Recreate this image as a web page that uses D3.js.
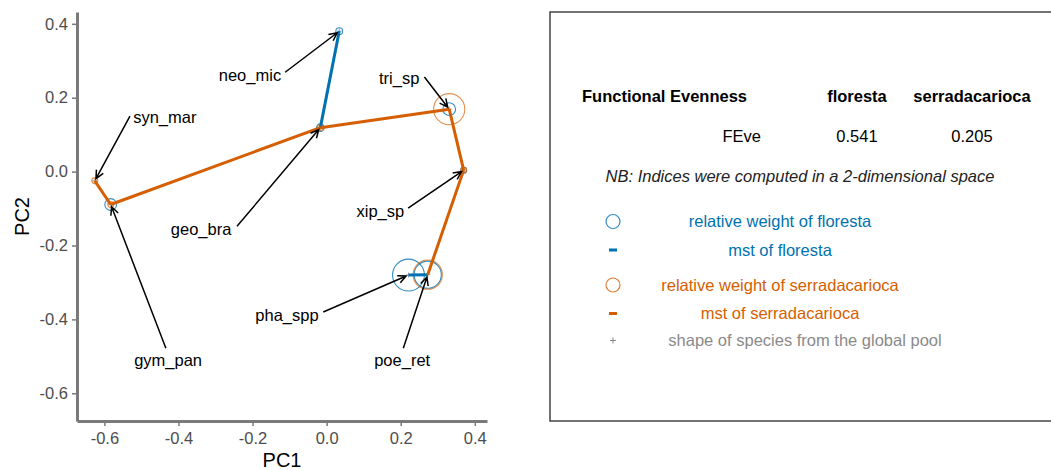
<!DOCTYPE html>
<html>
<head>
<meta charset="utf-8">
<script src="https://cdn.jsdelivr.net/npm/d3@7"></script>
<style>
  body { margin: 0; background: #fff; }
  svg { display: block; font-family: "Liberation Sans", Arial, sans-serif; }
</style>
</head>
<body>
<svg id="chart" width="1051" height="470"></svg>
<script>
'use strict';

// Species positions in the functional space.
const species = ['syn_mar', 'gym_pan', 'geo_bra', 'neo_mic', 'tri_sp', 'xip_sp', 'pha_spp', 'poe_ret'];
const pc1 = [-0.626, -0.583, -0.017, 0.034, 0.331, 0.370, 0.221, 0.273];
const pc2 = [-0.025, -0.089, 0.119, 0.380, 0.169, 0.004, -0.280, -0.279];

// Relative weights per assemblage.
const assemblages = ['floresta', 'serradacarioca'];
const weightFloresta = [0, 0.06, 0.025, 0.02, 0.07, 0.015, 0.44, 0.32];
const weightSerra = [0.015, 0.015, 0.015, 0, 0.42, 0.015, 0, 0.37];

// Minimum spanning trees.
const mstFloresta = [['neo_mic', 'geo_bra'], ['geo_bra', 'gym_pan'], ['geo_bra', 'tri_sp'],
  ['tri_sp', 'xip_sp'], ['xip_sp', 'poe_ret'], ['poe_ret', 'pha_spp']];
const mstSerra = [['syn_mar', 'gym_pan'], ['gym_pan', 'geo_bra'], ['geo_bra', 'tri_sp'],
  ['tri_sp', 'xip_sp'], ['xip_sp', 'poe_ret']];

// Repelled labels (data units): label centre and segment start.
const labelX = [-0.437, -0.428, -0.339, -0.207, 0.196, 0.145, -0.107, 0.204];
const labelY = [0.147, -0.510, -0.156, 0.261, 0.253, -0.107, -0.388, -0.510];
const segX = [-0.531, -0.434, -0.242, -0.112, 0.264, 0.220, -0.009, 0.207];
const segY = [0.150, -0.478, -0.148, 0.269, 0.256, -0.099, -0.380, -0.478];

const tickValues = [-0.6, -0.4, -0.2, 0.0, 0.2, 0.4];

// Index table.
const indexName = 'Functional Evenness';
const indexCodes = ['FEve'];
const indexValues = [0.541, 0.205];
const noteText = 'NB: Indices were computed in a 2-dimensional space';
const legendLabels = ['relative weight of floresta', 'mst of floresta',
  'relative weight of serradacarioca', 'mst of serradacarioca',
  'shape of species from the global pool'];

const blue = '#0072B2';
const orange = '#D55E00';
const grey = '#8a8a8a';

const svg = d3.select('#chart');

const x = d3.scaleLinear().domain([-0.674, 0.433]).range([77, 487]);
const y = d3.scaleLinear().domain([-0.675, 0.432]).range([421, 12]);
const r = d3.scaleSqrt().domain([0, 0.5]).range([0, 17]);

const pts = species.map((s, i) => ({
  name: s, x: pc1[i], y: pc2[i], wf: weightFloresta[i], ws: weightSerra[i],
  lx: labelX[i], ly: labelY[i], sx: segX[i], sy: segY[i]
}));
const byName = new Map(pts.map(d => [d.name, d]));

// Axes.
const fmt = d => d.toFixed(1);
const $xAxis = svg.append('g')
  .attr('transform', 'translate(0,421)')
  .call(d3.axisBottom(x).tickValues(tickValues).tickFormat(fmt).tickSize(5).tickPadding(6).tickSizeOuter(0));
const $yAxis = svg.append('g')
  .attr('transform', 'translate(77,0)')
  .call(d3.axisLeft(y).tickValues(tickValues).tickFormat(fmt).tickSize(5).tickPadding(4).tickSizeOuter(0));

[$xAxis, $yAxis].forEach($a => {
  $a.select('.domain').attr('stroke', '#7a7a7a').attr('stroke-width', 3);
  $a.selectAll('.tick line').attr('stroke', '#7a7a7a').attr('stroke-width', 1.5);
  $a.selectAll('.tick text').attr('fill', '#4d4d4d').style('font-size', '16.5px')
    .style('font-family', '"Liberation Sans", Arial, sans-serif');
});

svg.append('text').attr('x', 282).attr('y', 467).attr('text-anchor', 'middle')
  .style('font-size', '20px').attr('fill', '#000').text('PC1');
svg.append('text').attr('transform', 'translate(29,216.5) rotate(-90)').attr('text-anchor', 'middle')
  .style('font-size', '20px').attr('fill', '#000').text('PC2');

const $plot = svg.append('g');

// Pool species shapes.
$plot.selectAll('.pool').data(pts).enter().append('path')
  .attr('class', 'pool')
  .attr('d', d => `M${x(d.x) - 2.5},${y(d.y)}h5M${x(d.x)},${y(d.y) - 2.5}v5`)
  .attr('stroke', grey).attr('stroke-width', 0.8);

// Weight circles.
$plot.selectAll('.wf').data(pts.filter(d => d.wf > 0)).enter().append('circle')
  .attr('cx', d => x(d.x)).attr('cy', d => y(d.y)).attr('r', d => r(d.wf))
  .attr('fill', 'none').attr('stroke', blue).attr('stroke-opacity', 0.8).attr('stroke-width', 1.1);
$plot.selectAll('.ws').data(pts.filter(d => d.ws > 0)).enter().append('circle')
  .attr('cx', d => x(d.x)).attr('cy', d => y(d.y)).attr('r', d => r(d.ws))
  .attr('fill', 'none').attr('stroke', orange).attr('stroke-opacity', 0.7).attr('stroke-width', 1.1);

// MST segments. Edges shared with the serradacarioca tree are covered by it anyway.
const edgeKey = e => e.slice().sort().join('|');
const serraKeys = new Set(mstSerra.map(edgeKey));
const drawMst = (edges, color) => {
  $plot.append('g').selectAll('line').data(edges).enter().append('line')
    .attr('x1', e => x(byName.get(e[0]).x)).attr('y1', e => y(byName.get(e[0]).y))
    .attr('x2', e => x(byName.get(e[1]).x)).attr('y2', e => y(byName.get(e[1]).y))
    .attr('stroke', color).attr('stroke-width', 3).attr('stroke-linecap', 'butt');
};
drawMst(mstFloresta.filter(e => !serraKeys.has(edgeKey(e))), blue);
drawMst(mstSerra, orange);

// Label segments with open arrowheads.
const arrowPath = d => {
  const x0 = x(d.sx), y0 = y(d.sy), px = x(d.x), py = y(d.y);
  const len = Math.hypot(px - x0, py - y0);
  const ux = (px - x0) / len, uy = (py - y0) / len;
  const tx = px - ux * 2.5, ty = py - uy * 2.5;
  const a = Math.atan2(uy, ux), h = 9, spread = Math.PI / 7;
  const l1 = [tx - h * Math.cos(a - spread), ty - h * Math.sin(a - spread)];
  const l2 = [tx - h * Math.cos(a + spread), ty - h * Math.sin(a + spread)];
  return `M${x0},${y0}L${tx},${ty}M${l1[0]},${l1[1]}L${tx},${ty}L${l2[0]},${l2[1]}`;
};
$plot.selectAll('.seg').data(pts).enter().append('path')
  .attr('d', arrowPath).attr('fill', 'none').attr('stroke', '#000').attr('stroke-width', 1.5);

$plot.selectAll('.label').data(pts).enter().append('text')
  .attr('x', d => x(d.lx)).attr('y', d => y(d.ly)).attr('dy', '0.35em')
  .attr('text-anchor', 'middle').style('font-size', '16.5px').attr('fill', '#000')
  .text(d => d.name);

// Side panel with the index table and legend.
const $panel = svg.append('g');
$panel.append('rect').attr('x', 550).attr('y', 12).attr('width', 520).attr('height', 409)
  .attr('fill', '#fff').attr('stroke', '#444').attr('stroke-width', 1.5);

const colX = [857, 972];
$panel.append('text').attr('x', 582).attr('y', 96).attr('dy', '0.35em')
  .style('font-size', '16.5px').style('font-weight', 'bold').text(indexName);
$panel.selectAll('.head').data(assemblages).enter().append('text')
  .attr('x', (d, i) => colX[i]).attr('y', 96).attr('dy', '0.35em').attr('text-anchor', 'middle')
  .style('font-size', '16.5px').style('font-weight', 'bold').text(d => d);
$panel.append('text').attr('x', 761).attr('y', 136).attr('dy', '0.35em').attr('text-anchor', 'end')
  .style('font-size', '16.5px').text(indexCodes[0]);
$panel.selectAll('.val').data(indexValues).enter().append('text')
  .attr('x', (d, i) => colX[i]).attr('y', 136).attr('dy', '0.35em').attr('text-anchor', 'middle')
  .style('font-size', '16.5px').text(d => d.toFixed(3));
$panel.append('text').attr('x', 800).attr('y', 176).attr('dy', '0.35em').attr('text-anchor', 'middle')
  .style('font-size', '16.5px').style('font-style', 'italic').attr('fill', '#222').text(noteText);

const legendY = [221.5, 250, 285, 313.5, 340.5];
const legendColor = [blue, blue, orange, orange, grey];
const legendTextX = [780, 780, 780, 780, 805];
const keyX = 613;

$panel.selectAll('.ltext').data(legendLabels).enter().append('text')
  .attr('x', (d, i) => legendTextX[i]).attr('y', (d, i) => legendY[i]).attr('dy', '0.35em')
  .attr('text-anchor', 'middle').style('font-size', '16.5px')
  .attr('fill', (d, i) => legendColor[i]).text(d => d);

[0, 2].forEach(i => {
  $panel.append('circle').attr('cx', keyX).attr('cy', legendY[i]).attr('r', 7)
    .attr('fill', 'none').attr('stroke', legendColor[i]).attr('stroke-opacity', 0.8).attr('stroke-width', 1.2);
});
[1, 3].forEach(i => {
  $panel.append('rect').attr('x', keyX - 4).attr('y', legendY[i] - 1.5).attr('width', 8).attr('height', 3)
    .attr('fill', legendColor[i]);
});
$panel.append('path')
  .attr('d', `M${keyX - 3},${legendY[4]}h6M${keyX},${legendY[4] - 3}v6`)
  .attr('stroke', grey).attr('stroke-width', 1);
</script>
</body>
</html>
